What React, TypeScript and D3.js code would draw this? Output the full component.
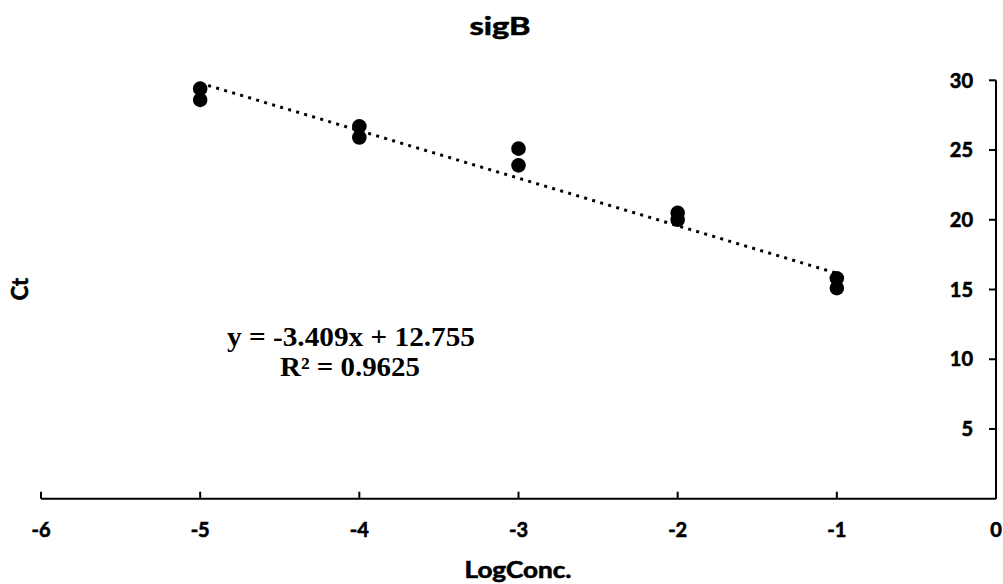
import React from "react";
import * as d3 from "d3";

// qPCR standard curve values
const logConc = [-5, -5, -4, -4, -3, -3, -2, -2, -1, -1];
const ct = [29.4, 28.6, 26.7, 25.9, 25.1, 23.9, 20.5, 20.0, 15.8, 15.1];

// trendline as printed on the chart
const slope = -3.409;
const intercept = 12.755;
const rSquared = 0.9625;
const trendFrom = -5;
const trendTo = -1;

const xTicks = [-6, -5, -4, -3, -2, -1, 0];
const yTicks = [5, 10, 15, 20, 25, 30];

const W = 1003;
const H = 584;
const sans = "Lato, 'Open Sans', sans-serif";
const serif = "'Liberation Serif', 'Times New Roman', serif";
// Lato bold is a little lighter than the original's font, thicken it slightly
const heavy = { fontFamily: sans, fontWeight: 700, stroke: "#000", strokeWidth: 0.6 };

const App = () => {
  const x = d3.scaleLinear().domain([-6, 0]).range([41, 996]);
  const y = d3.scaleLinear().domain([0, 30]).range([498.7, 80.3]);

  const points = logConc.map((v, i) => ({ x: v, y: ct[i] }));
  const trend = [trendFrom, trendTo].map(v => ({ x: v, y: slope * v + intercept }));
  const line = d3
    .line<{ x: number; y: number }>()
    .x(d => x(d.x))
    .y(d => y(d.y));

  return (
    <svg
      width={W}
      height={H}
      style={{ position: "absolute", left: 0, top: 0, background: "#fff" }}
    >
      {/* title */}
      <text
        x={500}
        y={35}
        textAnchor="middle"
        {...heavy}
        fontSize={25}
        textLength={61}
        lengthAdjust="spacingAndGlyphs"
      >
        sigB
      </text>

      {/* trendline */}
      <path
        d={line(trend) || ""}
        fill="none"
        stroke="#000"
        strokeWidth={3}
        strokeDasharray="3 5.35"
      />

      {/* points */}
      {points.map((p, i) => (
        <circle key={i} cx={x(p.x)} cy={y(p.y)} r={7.3} fill="#000" />
      ))}

      {/* x axis */}
      <line x1={x(-6)} x2={x(0)} y1={y(0)} y2={y(0)} stroke="#000" strokeWidth={2} />
      {xTicks.map(t => (
        <g key={t}>
          <line x1={x(t)} x2={x(t)} y1={y(0)} y2={y(0) - 7} stroke="#000" strokeWidth={2} />
          <text x={x(t)} y={537} textAnchor="middle" {...heavy} fontSize={20}>
            {t}
          </text>
        </g>
      ))}

      {/* y axis on the right */}
      <line x1={x(0)} x2={x(0)} y1={y(0)} y2={y(30)} stroke="#000" strokeWidth={2} />
      {yTicks.map(t => (
        <g key={t}>
          <line x1={x(0) - 7} x2={x(0)} y1={y(t)} y2={y(t)} stroke="#000" strokeWidth={2} />
          <text x={973} y={y(t)} dy="0.36em" textAnchor="end" {...heavy} fontSize={20}>
            {t}
          </text>
        </g>
      ))}

      {/* axis titles */}
      <text
        x={518}
        y={578}
        textAnchor="middle"
        {...heavy}
        fontSize={22}
        textLength={107}
        lengthAdjust="spacingAndGlyphs"
      >
        LogConc.
      </text>
      <text
        transform="translate(28,289) rotate(-90)"
        textAnchor="middle"
        {...heavy}
        fontSize={22}
      >
        Ct
      </text>

      {/* equation */}
      <text
        x={351}
        y={346}
        textAnchor="middle"
        fontFamily={serif}
        fontWeight="bold"
        fontSize={27}
        textLength={248}
        lengthAdjust="spacingAndGlyphs"
      >
        {`y = ${slope}x + ${intercept}`}
      </text>
      <text
        x={350}
        y={376}
        textAnchor="middle"
        fontFamily={serif}
        fontWeight="bold"
        fontSize={27}
        textLength={140}
        lengthAdjust="spacingAndGlyphs"
      >
        {`R² = ${rSquared}`}
      </text>
    </svg>
  );
};

export default App;
